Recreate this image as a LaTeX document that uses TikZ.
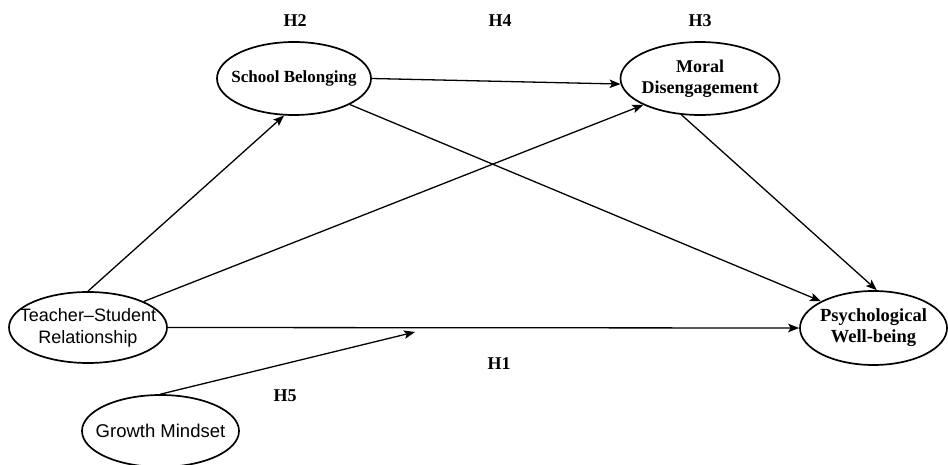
\documentclass[tikz,border=0pt]{standalone}
\usepackage{fontspec}
\setmainfont{Liberation Serif}
\newfontfamily\sansf{Liberation Sans}
\usetikzlibrary{shapes.geometric,arrows.meta}
\tikzset{
  var/.style={ellipse, draw, line width=1.7pt, inner sep=0pt},
  slab/.style={align=center, inner sep=0pt, font=\fontsize{18}{21}\selectfont\bfseries},
  sslab/.style={align=center, inner sep=0pt, font=\fontsize{18}{22}\selectfont\sansf},
  path/.style={line width=1.3pt, -{Stealth[length=11pt,width=8.5pt,inset=2.5pt]}},
  hlab/.style={font=\fontsize{18}{20}\selectfont\bfseries}
}
\begin{document}
\begin{tikzpicture}[x=1pt,y=-1pt]
\useasboundingbox (0,0) rectangle (948,465);
\node[var, minimum width=154pt, minimum height=73pt,
  label={[slab,font=\fontsize{17}{21}\selectfont\bfseries]center:School Belonging}] (sb) at (294,78.5) {};
\node[var, minimum width=159pt, minimum height=73pt,
  label={[slab]center:Moral\\Disengagement}] (md) at (700,78.5) {};
\node[var, minimum width=158pt, minimum height=71pt,
  label={[sslab]center:Teacher–Student\\Relationship}] (ts) at (88,327.5) {};
\node[var, minimum width=147pt, minimum height=74pt,
  label={[slab,font=\fontsize{18.5}{21}\selectfont\bfseries]center:Psychological\\Well-being}] (pw) at (873.5,328) {};
\node[var, minimum width=157pt, minimum height=72pt,
  label={[sslab,font=\fontsize{18.5}{22}\selectfont\sansf]center:Growth Mindset}] (gm) at (160.5,431) {};
\node[hlab] (h2) at (295,21) {H2};
\node[hlab] (h4) at (500,21) {H4};
\node[hlab] (h3) at (700,21) {H3};
\node[hlab] (h1) at (499,364) {H1};
\node[hlab] (h5) at (285,396) {H5};
\coordinate (mod) at (415,332);
\draw[path] (ts.north) -- (sb.255);
\draw[path] (ts.25) -- (md.205);
\draw[path] (sb.east) -- (md.184);
\draw[path] (sb.-25) -- (pw.153);
\draw[path] (md.243) -- (pw.85);
\draw[path] (ts.east) -- (pw.west);
\draw[path] (gm.north) -- (mod);
\end{tikzpicture}
\end{document}
